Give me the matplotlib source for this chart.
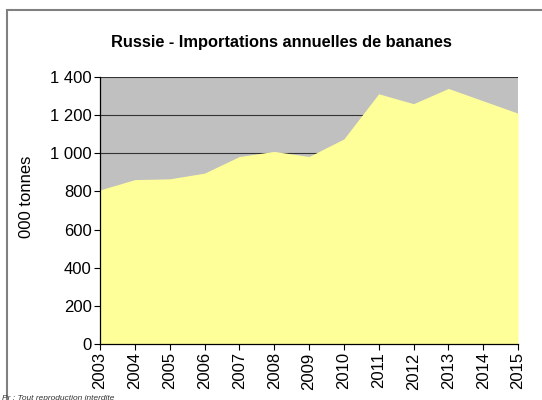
import numpy as np
import matplotlib.pyplot as plt
from matplotlib.patches import Rectangle

years = [2003, 2004, 2005, 2006, 2007, 2008, 2009, 2010, 2011, 2012, 2013, 2014, 2015]
imports = [808, 862, 866, 896, 983, 1010, 983, 1075, 1312, 1260, 1340, 1275, 1210]
yticks = [0, 200, 400, 600, 800, 1000, 1200, 1400]
ytick_labels = ["0", "200", "400", "600", "800", "1 000", "1 200", "1 400"]

plt.rcParams['font.family'] = ['Liberation Sans', 'DejaVu Sans']

fig = plt.figure(figsize=(5.42, 4.0), dpi=100)
ax = fig.add_axes([100/542, 56/400, 418/542, 267/400])

ax.set_facecolor('#c0c0c0')
ax.fill_between(years, imports, 0, color='#ffff99', linewidth=0, zorder=2)
for v in [1000, 1200, 1400]:
    ax.axhline(v, color='#333333', linewidth=0.8, zorder=1)

ax.set_xlim(years[0], years[-1])
ax.set_ylim(0, 1400)
ax.set_xticks(years)
ax.set_xticklabels([str(y) for y in years], rotation=90, fontsize=12)
ax.set_yticks(yticks)
ax.set_yticklabels(ytick_labels, fontsize=12)
ax.tick_params(direction='out', length=4, width=0.8, color='black', pad=2)
ax.set_ylabel('000 tonnes', fontsize=12)
ax.yaxis.set_label_coords(-0.158, 0.55)

for s in ['top', 'right']:
    ax.spines[s].set_visible(False)
for s in ['left', 'bottom']:
    ax.spines[s].set_color('black')
    ax.spines[s].set_linewidth(0.9)

fig.text(281/542, 1 - 43/400, 'Russie - Importations annuelles de bananes',
         ha='center', va='center', fontsize=11.8, fontweight='bold')

fig.patches.append(Rectangle((7/542, -0.05), 1.0, 1 - 10/400 + 0.05, transform=fig.transFigure,
                             fill=False, edgecolor='#808080', linewidth=1.5))

fig.text(2/542, 1 - 398/400, 'Pr : Tout reproduction interdite', fontsize=6,
         style='italic', ha='left', va='center', color='#333333')

fig.savefig('out.png', dpi=100)
